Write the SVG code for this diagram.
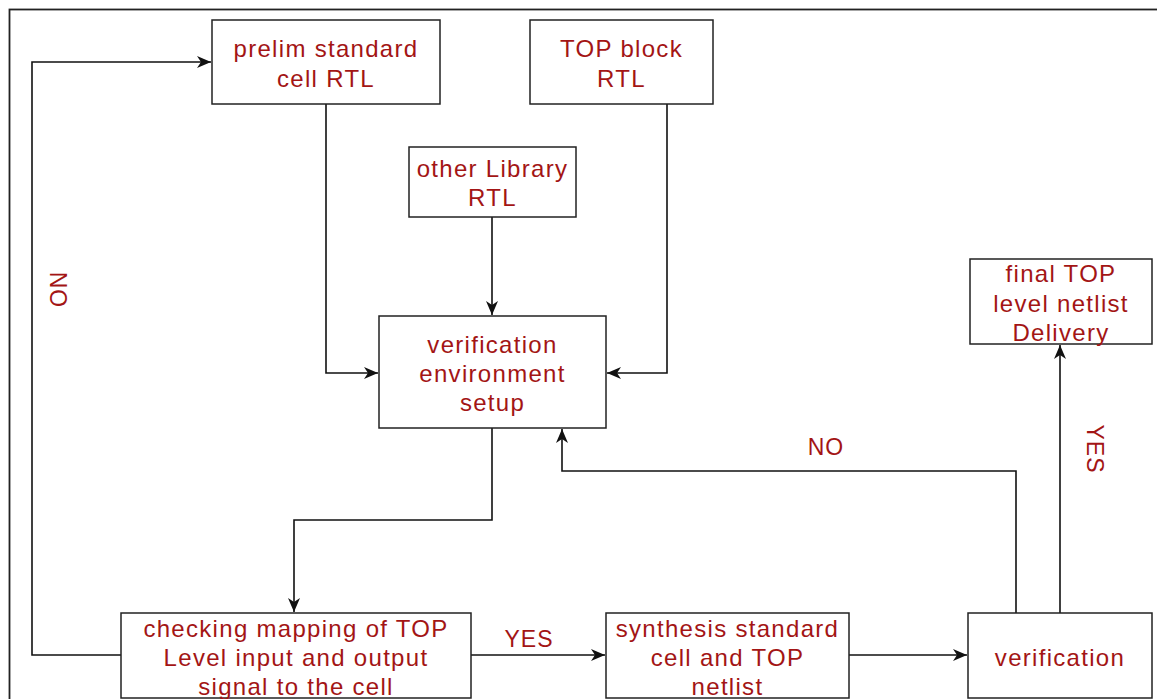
<svg xmlns="http://www.w3.org/2000/svg" width="1157" height="699" viewBox="0 0 1157 699">
<defs>
<style>
.box{fill:#fff;stroke:#222;stroke-width:1.5}
.t{font-family:"Liberation Sans",Arial,sans-serif;font-size:24px;fill:#a31515;text-anchor:middle;letter-spacing:1.3px}
.lbl{font-family:"Liberation Sans",Arial,sans-serif;font-size:23px;fill:#a31515;text-anchor:middle;letter-spacing:1px}
.c{fill:none;stroke:#111;stroke-width:1.6}
</style>
<marker id="ah" markerUnits="userSpaceOnUse" markerWidth="15" markerHeight="14" viewBox="0 0 15 14" refX="14" refY="7" orient="auto">
<path d="M0,1 L14,7 L0,13 L4,7 Z" fill="#111"/>
</marker>
</defs>
<rect width="1157" height="699" fill="#fff"/>
<rect x="9.5" y="9.5" width="1160" height="700" fill="none" stroke="#222" stroke-width="1.8"/>

<g id="connectors">
<path class="c" d="M326,104 V373 H378" marker-end="url(#ah)"/>
<path class="c" d="M667,104 V373 H607" marker-end="url(#ah)"/>
<path class="c" d="M492,217 V315" marker-end="url(#ah)"/>
<path class="c" d="M492,428 V520 H294 V612" marker-end="url(#ah)"/>
<path class="c" d="M121,655 H32 V62 H211" marker-end="url(#ah)"/>
<path class="c" d="M471,655 H605" marker-end="url(#ah)"/>
<path class="c" d="M849,655 H967" marker-end="url(#ah)"/>
<path class="c" d="M1016,613 V471 H562 V429" marker-end="url(#ah)"/>
<path class="c" d="M1060,613 V345" marker-end="url(#ah)"/>
<text class="lbl" transform="translate(50,290) rotate(90)">NO</text>
<text class="lbl" x="529" y="647">YES</text>
<text class="lbl" x="826" y="455">NO</text>
<text class="lbl" transform="translate(1087,449) rotate(90)">YES</text>
</g>

<g id="prelim">
<rect class="box" x="212" y="20" width="228" height="84"/>
<text class="t" x="326" y="57">prelim standard</text>
<text class="t" x="326" y="87">cell RTL</text>
</g>
<g id="topblock">
<rect class="box" x="530" y="20" width="183" height="84"/>
<text class="t" x="621.5" y="57">TOP block</text>
<text class="t" x="621.5" y="87">RTL</text>
</g>
<g id="otherlib">
<rect class="box" x="409" y="147" width="167" height="70"/>
<text class="t" x="492.5" y="177">other Library</text>
<text class="t" x="492.5" y="206">RTL</text>
</g>
<g id="verifenv">
<rect class="box" x="379" y="316" width="227" height="112"/>
<text class="t" x="492.5" y="353">verification</text>
<text class="t" x="492.5" y="382">environment</text>
<text class="t" x="492.5" y="411">setup</text>
</g>
<g id="final">
<rect class="box" x="970" y="259" width="182" height="85"/>
<text class="t" x="1061" y="282">final TOP</text>
<text class="t" x="1061" y="312">level netlist</text>
<text class="t" x="1061" y="341">Delivery</text>
</g>
<g id="checking">
<rect class="box" x="121" y="613" width="350" height="85"/>
<text class="t" x="296" y="637">checking mapping of TOP</text>
<text class="t" x="296" y="666">Level input and output</text>
<text class="t" x="296" y="695">signal to the cell</text>
</g>
<g id="synthesis">
<rect class="box" x="606" y="613" width="243" height="85"/>
<text class="t" x="727.5" y="637">synthesis standard</text>
<text class="t" x="727.5" y="666">cell and TOP</text>
<text class="t" x="727.5" y="695">netlist</text>
</g>
<g id="verification">
<rect class="box" x="968" y="613" width="184" height="85"/>
<text class="t" x="1060" y="666">verification</text>
</g>
</svg>
